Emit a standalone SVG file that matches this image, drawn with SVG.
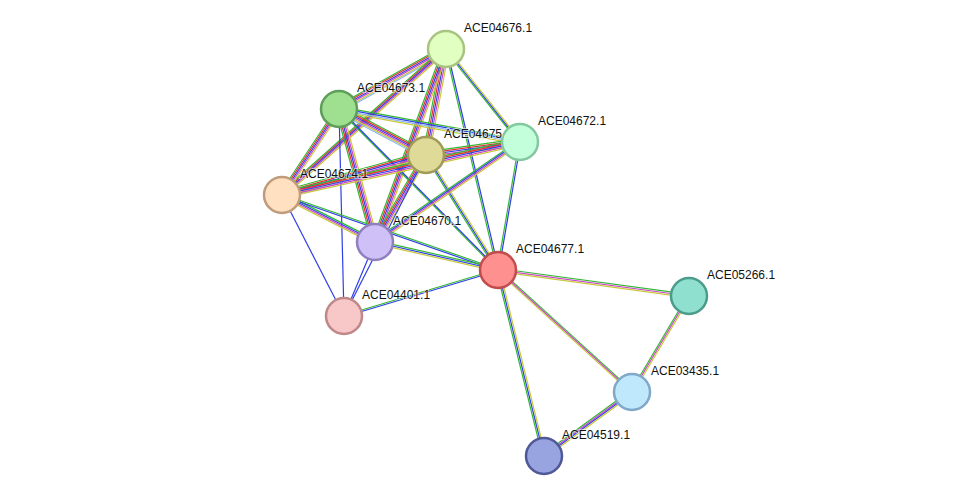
<svg xmlns="http://www.w3.org/2000/svg" xmlns:xlink="http://www.w3.org/1999/xlink" width="975" height="502" viewBox="0 0 975 502">
<style>
.g{stroke:#33b833}.r{stroke:#e53030}.b{stroke:#2f3fe6}.m{stroke:#cc44cc}.y{stroke:#c8c83c}.c{stroke:#8cb4ee}
use{stroke-width:1.2;fill:none}
.n{stroke-width:2.5}
text{font-family:"Liberation Sans",Arial,sans-serif;font-size:12px;fill:#111;paint-order:stroke;stroke:#fff;stroke-width:2px;stroke-opacity:.6}
</style>
<defs>
<line id="e1" x1="446" y1="49" x2="339" y2="109"/>
<line id="e2" x1="446" y1="49" x2="426" y2="155"/>
<line id="e3" x1="446" y1="49" x2="520" y2="142"/>
<line id="e4" x1="446" y1="49" x2="282" y2="195"/>
<line id="e5" x1="446" y1="49" x2="375" y2="242"/>
<line id="e6" x1="446" y1="49" x2="498" y2="270"/>
<line id="e7" x1="339" y1="109" x2="426" y2="155"/>
<line id="e8" x1="339" y1="109" x2="520" y2="142"/>
<line id="e9" x1="339" y1="109" x2="282" y2="195"/>
<line id="e10" x1="339" y1="109" x2="375" y2="242"/>
<line id="e11" x1="339" y1="109" x2="498" y2="270"/>
<line id="e12" x1="339" y1="109" x2="344" y2="316"/>
<line id="e13" x1="426" y1="155" x2="520" y2="142"/>
<line id="e14" x1="426" y1="155" x2="282" y2="195"/>
<line id="e15" x1="426" y1="155" x2="375" y2="242"/>
<line id="e16" x1="426" y1="155" x2="498" y2="270"/>
<line id="e17" x1="520" y1="142" x2="282" y2="195"/>
<line id="e18" x1="520" y1="142" x2="375" y2="242"/>
<line id="e19" x1="520" y1="142" x2="498" y2="270"/>
<line id="e20" x1="282" y1="195" x2="375" y2="242"/>
<line id="e21" x1="282" y1="195" x2="498" y2="270"/>
<line id="e22" x1="282" y1="195" x2="344" y2="316"/>
<line id="e23" x1="375" y1="242" x2="498" y2="270"/>
<line id="e24" x1="375" y1="242" x2="344" y2="316"/>
<line id="e25" x1="426" y1="155" x2="344" y2="316"/>
<line id="e26" x1="498" y1="270" x2="344" y2="316"/>
<line id="e27" x1="498" y1="270" x2="689" y2="296"/>
<line id="e28" x1="498" y1="270" x2="632" y2="392"/>
<line id="e29" x1="498" y1="270" x2="544" y2="456"/>
<line id="e30" x1="689" y1="296" x2="632" y2="392"/>
<line id="e31" x1="632" y1="392" x2="544" y2="456"/>
</defs>
<g id="edges">
<use href="#e1" class="g" transform="translate(0,-4)"/><use href="#e1" class="r" transform="translate(0,-2.4)"/><use href="#e1" class="b" transform="translate(0,-0.8)"/><use href="#e1" class="m" transform="translate(0,0.8)"/><use href="#e1" class="y" transform="translate(0,2.4)"/><use href="#e1" class="c" transform="translate(0,4)"/>
<use href="#e2" class="g" transform="translate(-3.2,0)"/><use href="#e2" class="r" transform="translate(-1.6,0)"/><use href="#e2" class="b"/><use href="#e2" class="m" transform="translate(1.6,0)"/><use href="#e2" class="y" transform="translate(3.2,0)"/>
<use href="#e3" class="g" transform="translate(-1.6,0)"/><use href="#e3" class="b"/><use href="#e3" class="y" transform="translate(1.6,0)"/>
<use href="#e4" class="g" transform="translate(0,-3.2)"/><use href="#e4" class="r" transform="translate(0,-1.6)"/><use href="#e4" class="b"/><use href="#e4" class="m" transform="translate(0,1.6)"/><use href="#e4" class="y" transform="translate(0,3.2)"/>
<use href="#e5" class="g" transform="translate(-3.2,0)"/><use href="#e5" class="r" transform="translate(-1.6,0)"/><use href="#e5" class="b"/><use href="#e5" class="m" transform="translate(1.6,0)"/><use href="#e5" class="y" transform="translate(3.2,0)"/>
<use href="#e6" class="g" transform="translate(-0.8,0)"/><use href="#e6" class="b" transform="translate(0.8,0)"/>
<use href="#e7" class="g" transform="translate(0,-4)"/><use href="#e7" class="r" transform="translate(0,-2.4)"/><use href="#e7" class="b" transform="translate(0,-0.8)"/><use href="#e7" class="m" transform="translate(0,0.8)"/><use href="#e7" class="y" transform="translate(0,2.4)"/><use href="#e7" class="c" transform="translate(0,4)"/>
<use href="#e8" class="g" transform="translate(0,-2.4)"/><use href="#e8" class="b" transform="translate(0,-0.8)"/><use href="#e8" class="c" transform="translate(0,0.8)"/><use href="#e8" class="y" transform="translate(0,2.4)"/>
<use href="#e9" class="g" transform="translate(-3.2,0)"/><use href="#e9" class="r" transform="translate(-1.6,0)"/><use href="#e9" class="b"/><use href="#e9" class="m" transform="translate(1.6,0)"/><use href="#e9" class="y" transform="translate(3.2,0)"/>
<use href="#e10" class="g" transform="translate(-3.2,0)"/><use href="#e10" class="r" transform="translate(-1.6,0)"/><use href="#e10" class="b"/><use href="#e10" class="m" transform="translate(1.6,0)"/><use href="#e10" class="y" transform="translate(3.2,0)"/>
<use href="#e11" class="g" transform="translate(-0.8,0)"/><use href="#e11" class="b" transform="translate(0.8,0)"/>
<use href="#e12" class="b"/>
<use href="#e13" class="g" transform="translate(0,-3.2)"/><use href="#e13" class="r" transform="translate(0,-1.6)"/><use href="#e13" class="b"/><use href="#e13" class="m" transform="translate(0,1.6)"/><use href="#e13" class="y" transform="translate(0,3.2)"/>
<use href="#e14" class="g" transform="translate(0,-4)"/><use href="#e14" class="r" transform="translate(0,-2.4)"/><use href="#e14" class="b" transform="translate(0,-0.8)"/><use href="#e14" class="m" transform="translate(0,0.8)"/><use href="#e14" class="y" transform="translate(0,2.4)"/><use href="#e14" class="c" transform="translate(0,4)"/>
<use href="#e15" class="g" transform="translate(-3.2,0)"/><use href="#e15" class="r" transform="translate(-1.6,0)"/><use href="#e15" class="b"/><use href="#e15" class="m" transform="translate(1.6,0)"/><use href="#e15" class="y" transform="translate(3.2,0)"/>
<use href="#e16" class="g" transform="translate(-1.6,0)"/><use href="#e16" class="b"/><use href="#e16" class="y" transform="translate(1.6,0)"/>
<use href="#e17" class="g" transform="translate(0,-3.2)"/><use href="#e17" class="r" transform="translate(0,-1.6)"/><use href="#e17" class="b"/><use href="#e17" class="m" transform="translate(0,1.6)"/><use href="#e17" class="y" transform="translate(0,3.2)"/>
<use href="#e18" class="g" transform="translate(0,-2.4)"/><use href="#e18" class="b" transform="translate(0,-0.8)"/><use href="#e18" class="m" transform="translate(0,0.8)"/><use href="#e18" class="y" transform="translate(0,2.4)"/>
<use href="#e19" class="g" transform="translate(-0.8,0)"/><use href="#e19" class="b" transform="translate(0.8,0)"/>
<use href="#e20" class="g" transform="translate(0,-2.4)"/><use href="#e20" class="b" transform="translate(0,-0.8)"/><use href="#e20" class="m" transform="translate(0,0.8)"/><use href="#e20" class="y" transform="translate(0,2.4)"/>
<use href="#e21" class="g" transform="translate(0,-0.8)"/><use href="#e21" class="b" transform="translate(0,0.8)"/>
<use href="#e22" class="b"/>
<use href="#e23" class="g" transform="translate(0,-1.6)"/><use href="#e23" class="b"/><use href="#e23" class="y" transform="translate(0,1.6)"/>
<use href="#e24" class="b"/>
<use href="#e25" class="b"/>
<use href="#e26" class="g" transform="translate(0,-0.8)"/><use href="#e26" class="b" transform="translate(0,0.8)"/>
<use href="#e27" class="g" transform="translate(0,-1.6)"/><use href="#e27" class="m"/><use href="#e27" class="y" transform="translate(0,1.6)"/>
<use href="#e28" class="g" transform="translate(0,-1.6)"/><use href="#e28" class="m"/><use href="#e28" class="y" transform="translate(0,1.6)"/>
<use href="#e29" class="g" transform="translate(-1.6,0)"/><use href="#e29" class="b"/><use href="#e29" class="y" transform="translate(1.6,0)"/>
<use href="#e30" class="g" transform="translate(-1.6,0)"/><use href="#e30" class="m"/><use href="#e30" class="y" transform="translate(1.6,0)"/>
<use href="#e31" class="g" transform="translate(0,-2.4)"/><use href="#e31" class="m" transform="translate(0,-0.8)"/><use href="#e31" class="b" transform="translate(0,0.8)"/><use href="#e31" class="y" transform="translate(0,2.4)"/>
</g>
<g id="n676"><circle class="n" cx="446" cy="49" r="18" fill="#e0ffc0" stroke="#a8c480"/><text x="464" y="32">ACE04676.1</text></g>
<g id="n673"><circle class="n" cx="339" cy="109" r="18" fill="#9fe090" stroke="#5e9e58"/><text x="357" y="92">ACE04673.1</text></g>
<g id="n672"><circle class="n" cx="520" cy="142" r="18" fill="#c4ffdc" stroke="#84c8a0"/><text x="538" y="125">ACE04672.1</text></g>
<g id="n674"><circle class="n" cx="282" cy="195" r="18" fill="#ffe0c0" stroke="#c09c7c"/><text x="300" y="178">ACE04674.1</text></g>
<g id="n675"><circle class="n" cx="426" cy="155" r="18" fill="#e0da98" stroke="#a09a58"/><text x="444" y="138">ACE04675</text></g>
<g id="n670"><circle class="n" cx="375" cy="242" r="18" fill="#d0c0f8" stroke="#9080c0"/><text x="393" y="225">ACE04670.1</text></g>
<g id="n401"><circle class="n" cx="344" cy="316" r="18" fill="#f8c8c8" stroke="#c08888"/><text x="362" y="299">ACE04401.1</text></g>
<g id="n677"><circle class="n" cx="498" cy="270" r="18" fill="#ff9090" stroke="#c04c4c"/><text x="516" y="253">ACE04677.1</text></g>
<g id="n5266"><circle class="n" cx="689" cy="296" r="18" fill="#90e0d0" stroke="#4c9c8c"/><text x="707" y="279">ACE05266.1</text></g>
<g id="n3435"><circle class="n" cx="632" cy="392" r="18" fill="#c0e8fc" stroke="#80a8c8"/><text x="651" y="375">ACE03435.1</text></g>
<g id="n4519"><circle class="n" cx="544" cy="456" r="18" fill="#98a4e0" stroke="#505898"/><text x="562" y="439">ACE04519.1</text></g>
</svg>
